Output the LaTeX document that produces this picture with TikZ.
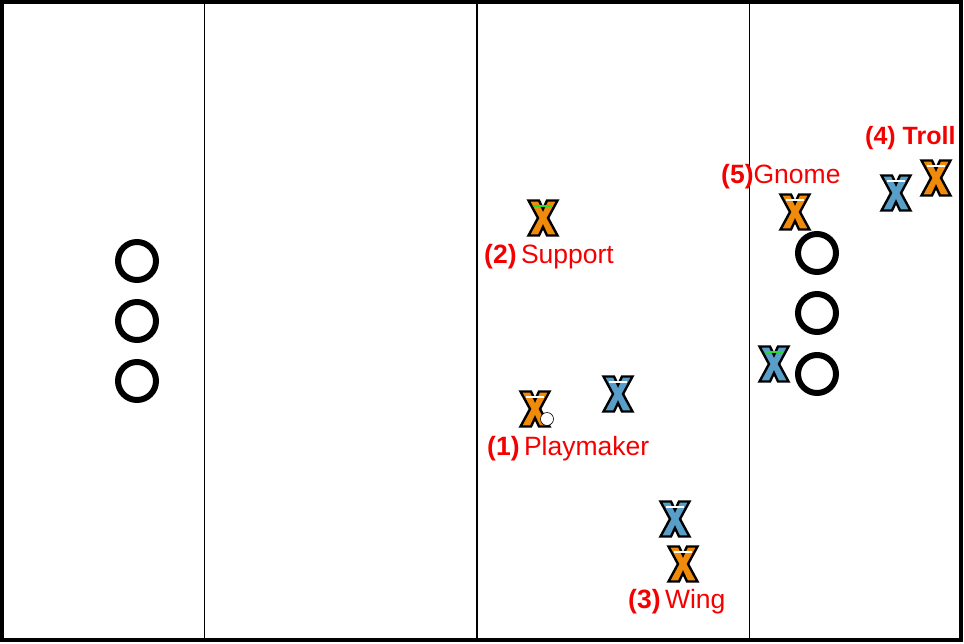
\documentclass[tikz,border=0pt]{standalone}
\usepackage{fontspec}
\setmainfont{Liberation Sans}
\definecolor{xorange}{RGB}{240,138,10}
\definecolor{xblue}{RGB}{88,158,200}
\definecolor{xgreen}{RGB}{40,220,40}
\definecolor{lblred}{RGB}{245,0,0}
\tikzset{
  pics/xm/.style n args={2}{code={
    \draw[fill=#1, line width=2.4pt, line join=miter]
      (-14.5,-17.5) -- (-4,-17.5) -- (0,-9) -- (4,-17.5) -- (14.5,-17.5) -- (5,0) --
      (14.5,17.5) -- (4,17.5) -- (0,9) -- (-4,17.5) -- (-14.5,17.5) -- (-5,0) -- cycle;
    \draw[#2, line width=2.4pt] (-9,-12) -- (9,-12);
  }},
  cone/.style={circle, draw=black, line width=6pt, minimum size=38pt, inner sep=0pt},
  lbl/.style={text=lblred, font=\fontsize{26.5}{30}\selectfont, anchor=west, inner sep=0pt},
  thin line/.style={line width=1pt},
}
\begin{document}
\begin{tikzpicture}[x=1pt,y=-1pt]
\useasboundingbox (0,0) rectangle (964,643);
% field
\draw[line width=4.5pt] (2,2) rectangle (961,640);
\coordinate (l1t) at (204,2); \coordinate (l1b) at (204,640);
\coordinate (l2t) at (477,2); \coordinate (l2b) at (477,640);
\coordinate (l3t) at (749,2); \coordinate (l3b) at (749,640);
\draw[thin line] (l1t) -- (l1b);
\draw[line width=2.2pt] (l2t) -- (l2b);
\draw[thin line] (l3t) -- (l3b);
% hoops
\node[cone] (hl1) at (137,261) {};
\node[cone] (hl2) at (137,321) {};
\node[cone] (hl3) at (137,381) {};
\node[cone] (hr1) at (817,253) {};
\node[cone] (hr2) at (817,313) {};
\node[cone] (hr3) at (817,374) {};
% players
\pic at (543,218) {xm={xorange}{xgreen}};
\pic at (535,409) {xm={xorange}{white}};
\node[circle, draw=black, fill=white, line width=0.6pt, minimum size=13pt, inner sep=0pt] (ball) at (547,419) {};
\pic at (618,394) {xm={xblue}{white}};
\pic at (675,519) {xm={xblue}{white}};
\pic at (683,564) {xm={xorange}{white}};
\pic at (795,212) {xm={xorange}{white}};
\pic at (896,193) {xm={xblue}{white}};
\pic at (936,178) {xm={xorange}{white}};
\pic at (774,364) {xm={xblue}{xgreen}};
% labels
\node[lbl] (l2) at (484,257) {{\bfseries (2)}\,Support};
\node[lbl] (l1) at (487,449) {{\bfseries (1)}\,Playmaker};
\node[lbl] (l3) at (628,602) {{\bfseries (3)}\,Wing};
\node[lbl] (l5) at (721,177) {{\bfseries (5)}Gnome};
\node[lbl, font=\bfseries\fontsize{25}{28}\selectfont] (l4) at (865,138) {(4) Troll};
\end{tikzpicture}
\end{document}
